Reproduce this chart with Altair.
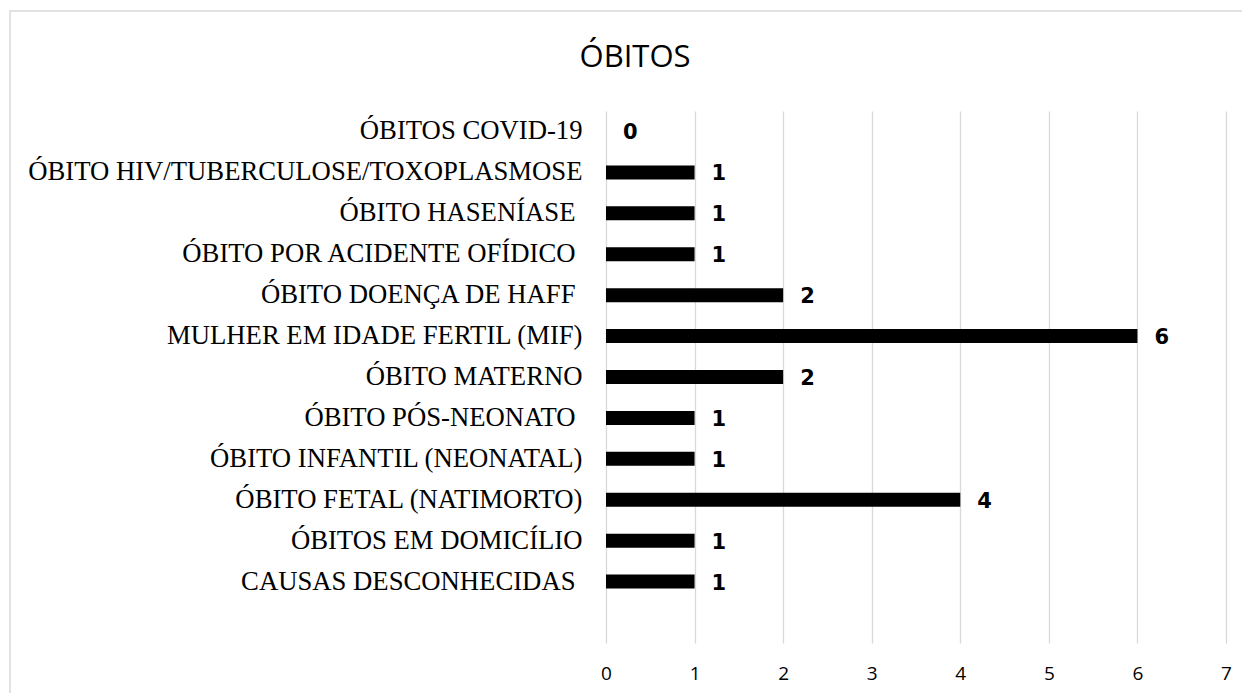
import altair as alt
import pandas as pd

categories = [
    "ÓBITOS COVID-19",
    "ÓBITO HIV/TUBERCULOSE/TOXOPLASMOSE",
    "ÓBITO HASENÍASE ",
    "ÓBITO POR ACIDENTE OFÍDICO ",
    "ÓBITO DOENÇA DE HAFF ",
    "MULHER EM IDADE FERTIL (MIF)",
    "ÓBITO MATERNO",
    "ÓBITO PÓS-NEONATO ",
    "ÓBITO INFANTIL (NEONATAL)",
    "ÓBITO FETAL (NATIMORTO)",
    "ÓBITOS EM DOMICÍLIO",
    "CAUSAS DESCONHECIDAS ",
]
values = [0, 1, 1, 1, 2, 6, 2, 1, 1, 4, 1, 1]
x_ticks = [0, 1, 2, 3, 4, 5, 6, 7]
title_text = "ÓBITOS"

df = pd.DataFrame({"cat": categories, "val": values})
y_domain = categories + ["\u2003"]

W, H = 620, 532

trailing_space = "substring(datum.value, length(datum.value) - 1) == ' '"

y_enc = alt.Y("cat:N", sort=None,
              scale=alt.Scale(domain=y_domain, paddingInner=0, paddingOuter=0),
              axis=alt.Axis(title=None, domain=False, ticks=False, tickSize=0,
                            labelFont="Liberation Serif", labelFontSize=26.7,
                            labelColor="#000000",
                            labelPadding={"condition": {"test": trailing_space, "value": 31},
                                          "value": 24},
                            labelLimit=0, grid=False))
x_enc = alt.X("val:Q", scale=alt.Scale(domain=[0, 7], nice=False),
              axis=alt.Axis(title=None, values=x_ticks, format="d", domain=False,
                            ticks=False, tickSize=0, grid=True, gridColor="#d9d9d9",
                            gridWidth=1.3, labelFont="Open Sans", labelFontSize=19,
                            labelColor="#000000", labelPadding=30,
                            labelBaseline="middle", labelFlush=False))

bars = alt.Chart(df).mark_bar(size=14, color="#000000").encode(x=x_enc, y=y_enc)
labels = alt.Chart(df).mark_text(align="left", baseline="middle", dx=17, dy=2,
                                 font="DejaVu Sans", fontWeight="bold",
                                 fontSize=21, color="#000000").encode(
    x="val:Q", y=alt.Y("cat:N", sort=None), text="val:Q")

title = alt.Chart(alt.Data(values=[{"t": title_text}])).mark_text(
    align="center", baseline="alphabetic", font="Open Sans", fontSize=31,
    color="#000000").encode(x=alt.value(29), y=alt.value(-44), text="t:N")

border = alt.Chart(alt.Data(values=[{}])).mark_rect(
    fill=None, stroke="#d9d9d9", strokeWidth=1.5).encode(
    x=alt.value(-596), x2=alt.value(700), y=alt.value(-100), y2=alt.value(700))

chart = alt.layer(border, bars, labels, title).properties(
    width=W, height=H,
    autosize=alt.AutoSizeParams(type="none"),
    padding={"left": 598, "top": 103, "right": 16, "bottom": 50},
).configure(background="#ffffff").configure_view(stroke=None)

chart.save("out.html", embed_options={"renderer": "svg", "actions": False})
